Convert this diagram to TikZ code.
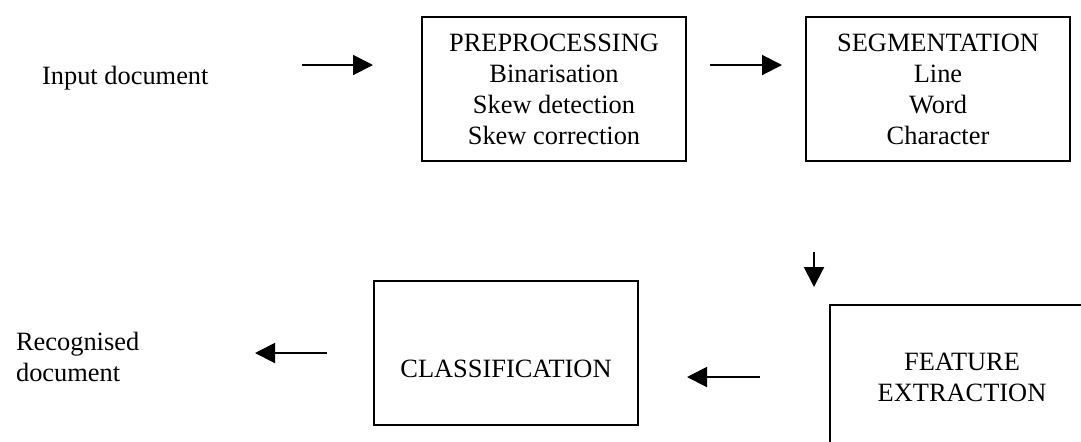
\documentclass[tikz,border=0pt]{standalone}
\usepackage{fontspec}
\setmainfont{Liberation Serif}
\usetikzlibrary{arrows.meta}

\begin{document}
\begin{tikzpicture}[x=0.5pt,y=-0.5pt,
  font=\fontsize{13.2}{15.5}\selectfont,
  stage/.style={draw,line width=1.1pt,minimum width=132pt,minimum height=72pt,
    align=center,inner sep=0pt},
  flow/.style={line width=1pt,-{Triangle[length=10pt,width=10pt]}}]

% --- page frame (the last box runs off the page) ---
\useasboundingbox (0,0) rectangle (1081,441);
\clip (0,0) rectangle (1081,441);

% --- stages ---
\node[stage] (pre) at (554,89) {PREPROCESSING\\Binarisation\\Skew detection\\Skew correction};
\node[stage] (seg) at (938,89) {SEGMENTATION\\Line\\Word\\Character};
\node[stage] (feat) at (962,377) {FEATURE\\EXTRACTION};
\node[stage] (clas) at (506,353) {\raisebox{-8pt}[\height][\depth]{CLASSIFICATION}};

% --- input and output texts ---
\node[anchor=base west] (in) at (35,84) {Input document};
\node[anchor=west,align=left] (out) at (9,357) {Recognised\\document};

% --- arrow ends (arrows stop short of the boxes) ---
\coordinate (in1) at (302,65);  \coordinate (in2) at (373,65);
\coordinate (pre1) at (710,65); \coordinate (pre2) at (782,65);
\coordinate (seg1) at (814,252); \coordinate (seg2) at (814,287);
\coordinate (feat1) at (760,377); \coordinate (feat2) at (687,377);
\coordinate (clas1) at (327,353); \coordinate (clas2) at (255,353);

\draw[flow] (in1) -- (in2);
\draw[flow] (pre1) -- (pre2);
\draw[flow] (seg1) -- (seg2);
\draw[flow] (feat1) -- (feat2);
\draw[flow] (clas1) -- (clas2);

\end{tikzpicture}
\end{document}
